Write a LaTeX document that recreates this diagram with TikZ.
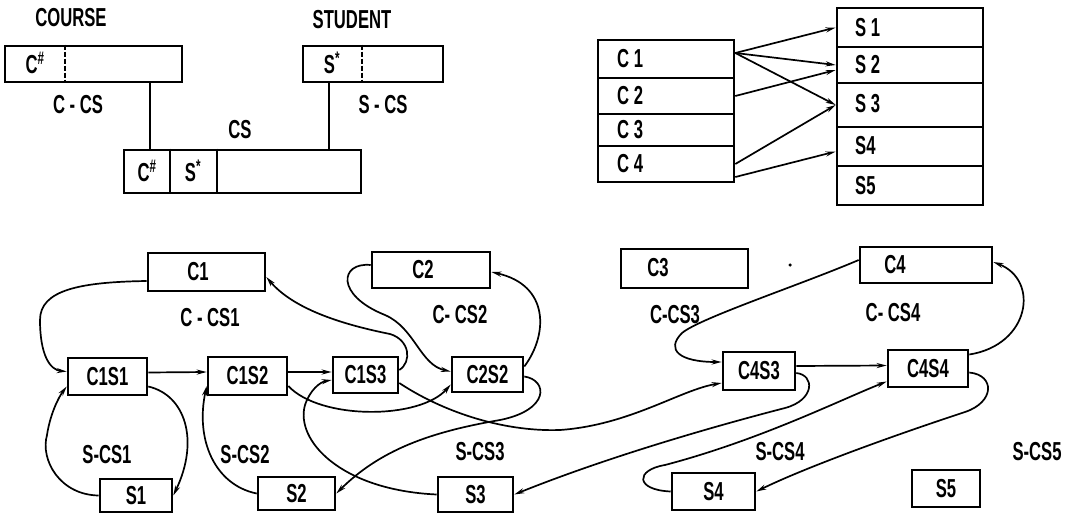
\documentclass[tikz,border=0pt]{standalone}
\usepackage{fontspec}
\setmainfont{Liberation Sans}[FakeStretch=0.64]
\usetikzlibrary{arrows.meta}
\newcommand\mybox[5]{\node[box,minimum width={#4-#2},minimum height={#5-#3}] (#1) at ({(#2+#4)/2},{(#3+#5)/2})}
\begin{document}
\begin{tikzpicture}[x=1pt,y=-1pt,
  box/.style={draw, line width=2.6pt, inner sep=0pt, font=\bfseries\fontsize{26}{28}\selectfont},
  txt/.style={inner sep=0pt, font=\bfseries\fontsize{26}{28}\selectfont},
  con/.style={line width=1.7pt},
  arr/.style={con, -{Stealth[length=10pt,width=5pt]}},
  divd/.style={line width=1.6pt, dash pattern=on 5pt off 2pt},
  divs/.style={line width=2.4pt},
]
\useasboundingbox (0,0) rectangle (1073,519);
% ---------- top left ----------
\node[txt] (tCourse) at (71,18) {COURSE};
\mybox{course}{5}{46}{182}{82} {};
\node[txt] (cHashA) at (35,63) {C\textsuperscript{\#}};
\coordinate (d1) at (65,0);
\draw[divd] (course.north -| d1) -- (course.south -| d1);

\node[txt] (tStudent) at (352,20) {STUDENT};
\mybox{student}{303}{46}{443}{82} {};
\node[txt] (sStarA) at (332,63) {S\textsuperscript{*}};
\coordinate (d2) at (362,0);
\draw[divd] (student.north -| d2) -- (student.south -| d2);

\node[txt] (tCS) at (240,130) {CS};
\mybox{cs}{124}{150}{361}{193} {};
\coordinate (d3) at (170,0);
\coordinate (d4) at (217,0);
\draw[divs] (cs.north -| d3) -- (cs.south -| d3);
\draw[divs] (cs.north -| d4) -- (cs.south -| d4);
\node[txt] (cHashB) at (147,171) {C\textsuperscript{\#}};
\node[txt] (sStarB) at (193,171) {S\textsuperscript{*}};

\coordinate (v1) at (150,0);
\coordinate (v2) at (329,0);
\draw[con] (course.south -| v1) -- (cs.north -| v1);
\draw[con] (student.south -| v2) -- (cs.north -| v2);
\node[txt] (tCCS) at (78,105) {C - CS};
\node[txt] (tSCS) at (383,105) {S - CS};

% ---------- top right ----------
\mybox{rc1}{598}{40}{734}{78} {};
\mybox{rc2}{598}{78}{734}{114} {};
\mybox{rc3}{598}{114}{734}{146} {};
\mybox{rc4}{598}{146}{734}{182} {};
\node[txt,anchor=west] (lc1) at (617,59) {C 1};
\node[txt,anchor=west] (lc2) at (617,96) {C 2};
\node[txt,anchor=west] (lc3) at (617,130) {C 3};
\node[txt,anchor=west] (lc4) at (617,164) {C 4};
\mybox{rs1}{837}{8}{983}{47} {};
\mybox{rs2}{837}{47}{983}{83} {};
\mybox{rs3}{837}{83}{983}{127} {};
\mybox{rs4}{837}{127}{983}{166} {};
\mybox{rs5}{837}{166}{983}{205} {};
\node[txt,anchor=west] (ls1) at (855,28) {S 1};
\node[txt,anchor=west] (ls2) at (855,65) {S 2};
\node[txt,anchor=west] (ls3) at (855,104) {S 3};
\node[txt,anchor=west] (ls4) at (855,146) {S4};
\node[txt,anchor=west] (ls5) at (855,186) {S5};
\draw[arr] ([yshift=6pt]rc1.east) -- (rs1.west);
\draw[arr] ([yshift=6pt]rc1.east) -- (rs2.west);
\draw[arr] ([yshift=6pt]rc1.east) -- (rs3.west);
\draw[arr] (rc2.east) -- ([yshift=-5pt]rs2.west);
\draw[arr] (rc4.east) -- (rs3.west);
\draw[arr] ([yshift=-13pt]rc4.east) -- ([yshift=-5pt]rs4.west);

% ---------- bottom ----------
\mybox{C1}{148}{253}{265}{291} {};
\node[txt] (lC1) at (198,272) {C1};
\mybox{C2}{372}{252}{490}{288} {};
\node[txt] (lC2) at (423,270) {C2};
\mybox{C3}{621}{249}{748}{288} {};
\node[txt] (lC3) at (658,268) {C3};
\mybox{C4}{860}{247}{992}{283} {};
\node[txt] (lC4) at (895,265) {C4};
\node[fill, circle, inner sep=0pt, minimum size=3.5pt] (dot) at (790,265) {};

\mybox{C1S1}{68}{358}{147}{395} {C1S1};
\mybox{C1S2}{208}{357}{287}{395} {C1S2};
\mybox{C1S3}{333}{357}{398}{393} {C1S3};
\mybox{C2S2}{452}{357}{523}{392} {C2S2};
\mybox{C4S3}{723}{352}{795}{390} {C4S3};
\mybox{C4S4}{888}{350}{968}{387} {C4S4};
\mybox{S1}{100}{479}{172}{512} {S1};
\mybox{S2}{258}{477}{335}{510} {S2};
\mybox{S3}{438}{477}{513}{512} {S3};
\mybox{S4}{672}{473}{755}{510} {S4};
\mybox{S5}{912}{470}{980}{507} {S5};

\node[txt] (lCCS1) at (210,318) {C - CS1};
\node[txt] (lCCS2) at (460,315) {C- CS2};
\node[txt] (lCCS3) at (675,315) {C-CS3};
\node[txt] (lCCS4) at (893,313) {C- CS4};
\node[txt] (lSCS1) at (107,455) {S-CS1};
\node[txt] (lSCS2) at (245,455) {S-CS2};
\node[txt] (lSCS3) at (480,452) {S-CS3};
\node[txt] (lSCS4) at (780,452) {S-CS4};
\node[txt] (lSCS5) at (1037,452) {S-CS5};

% C1 ring
\draw[arr] ([yshift=-9pt]C1.west) .. controls (80,282) and (40,290) .. (40,320) .. controls (40,355) and (50,370) .. ([yshift=5pt]C1S1.west);
\draw[arr] ([yshift=4pt]C1S1.east) -- ([yshift=4pt]C1S2.west);
\draw[arr] ([yshift=4pt]C1S2.east) -- ([yshift=3pt]C1S3.west);
\draw[arr] ([yshift=5pt]C1S3.east) .. controls (412,362) and (410,340) .. (390,334) .. controls (330,322) and (290,305) .. ([yshift=-5pt]C1.east);
% C2 ring
\draw[arr] ([yshift=5pt]C2.west) .. controls (340,262) and (335,295) .. (385,315) .. controls (415,328) and (420,365) .. ([yshift=3pt]C2S2.west);
\draw[arr] ([yshift=8pt]C2S2.east) .. controls (548,335) and (550,285) .. ([yshift=-2pt]C2.east);
% C4 ring
\draw[arr] ([yshift=5pt]C4.west) .. controls (800,285) and (700,318) .. (682,333) .. controls (665,350) and (680,362) .. ([yshift=9pt]C4S3.west);
\draw[arr] ([yshift=5pt]C4S3.east) -- ([yshift=3pt]C4S4.west);
\draw[arr] ([yshift=14pt]C4S4.east) .. controls (1030,345) and (1040,280) .. ([yshift=3pt]C4.east);
% S1 ring
\draw[arr] (S1.west) .. controls (60,495) and (40,460) .. (47,435) .. controls (50,415) and (58,398) .. ([yshift=-10pt]C1S1.west);
\draw[arr] ([yshift=-10pt]C1S1.east) .. controls (185,395) and (200,440) .. (S1.east);
% S2 ring
\draw[arr] (S2.west) .. controls (215,485) and (195,440) .. ([yshift=-10pt]C1S2.west);
\draw[arr] ([yshift=-10pt]C1S2.east) .. controls (320,420) and (420,420) .. ([yshift=-10pt]C2S2.west);
\draw[arr] ([yshift=-2pt]C2S2.east) .. controls (548,380) and (550,410) .. (500,420) .. controls (430,432) and (380,450) .. (S2.east);
% S3 ring
\draw[arr] (S3.west) .. controls (340,490) and (295,440) .. (305,405) .. controls (310,390) and (320,382) .. ([yshift=-5pt]C1S3.west);
\draw[arr] ([yshift=-8pt]C1S3.east) .. controls (440,410) and (500,432) .. (560,430) .. controls (630,425) and (680,390) .. ([yshift=-12pt]C4S3.west);
\draw[arr] ([yshift=-2pt]C4S3.east) .. controls (815,375) and (815,400) .. (785,408) .. controls (700,430) and (600,460) .. (S3.east);
% S4 ring
\draw[arr] (S4.west) .. controls (635,490) and (635,470) .. (665,465) .. controls (760,440) and (840,400) .. ([yshift=-13pt]C4S4.west);
\draw[arr] ([yshift=-4pt]C4S4.east) .. controls (995,375) and (995,402) .. (965,412) .. controls (880,440) and (800,470) .. (S4.east);
\end{tikzpicture}
\end{document}
